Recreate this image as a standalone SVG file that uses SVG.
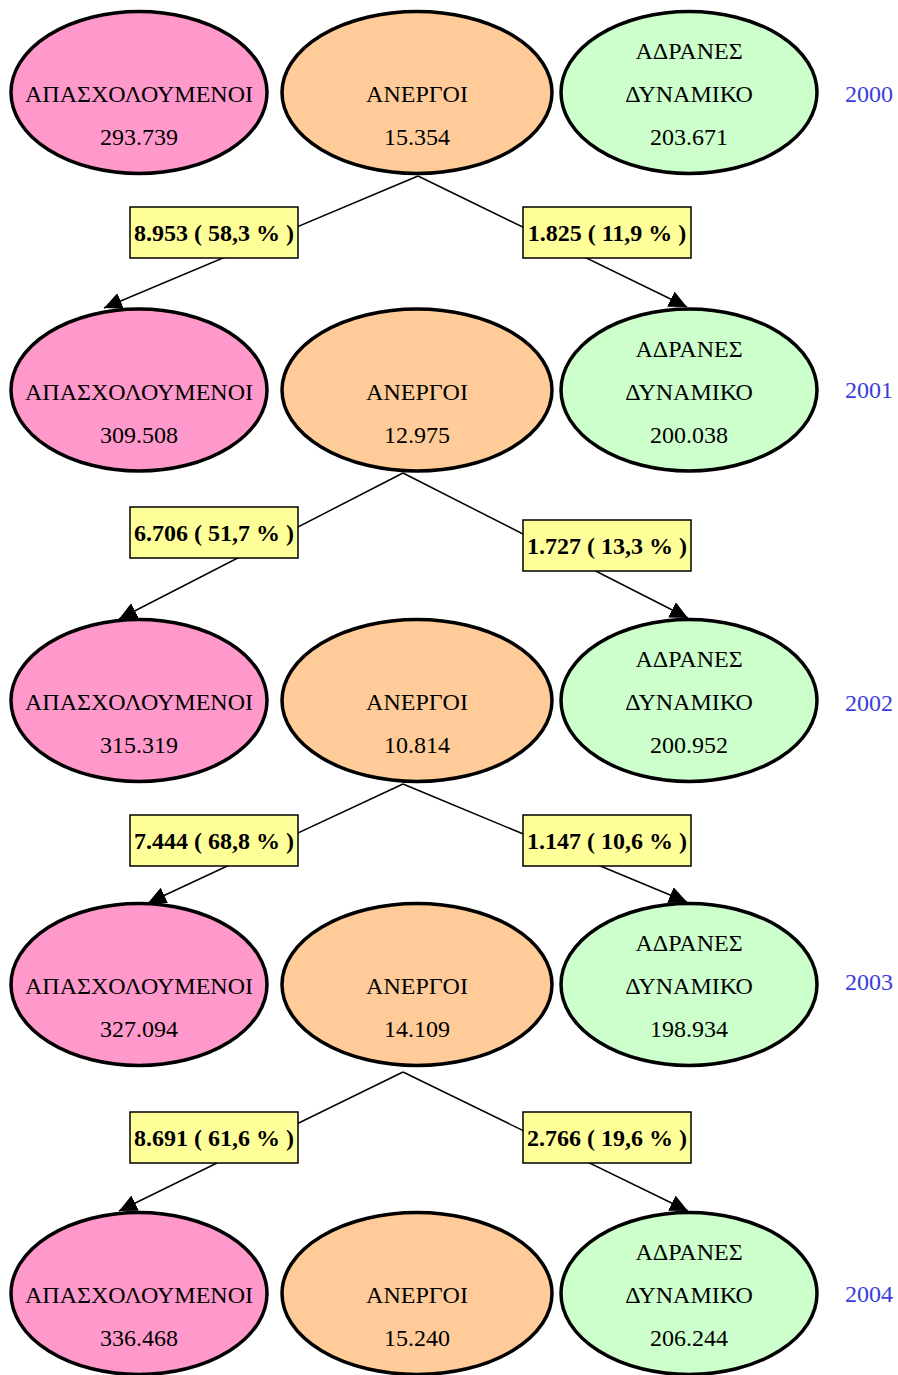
<svg xmlns="http://www.w3.org/2000/svg" width="898" height="1375" viewBox="0 0 898 1375">
<defs>
<style>
.t{font-family:"Liberation Serif","Times New Roman",serif;font-size:24px;fill:#000;text-anchor:middle}
.b{font-family:"Liberation Serif","Times New Roman",serif;font-size:24px;font-weight:bold;fill:#000;text-anchor:middle}
.y{font-family:"Liberation Serif","Times New Roman",serif;font-size:24px;fill:#3c3cdc;text-anchor:start}
.e{stroke:#000;stroke-width:3.5}
.emp{fill:#ff99cc}
.une{fill:#ffcc99}
.ina{fill:#ccffcc}
.ln{stroke:#000;stroke-width:1.5;fill:none;marker-end:url(#ah)}
.lb{fill:#ffff99;stroke:#000;stroke-width:1.5}
</style>
<marker id="ah" markerUnits="userSpaceOnUse" viewBox="0 0 18 17" markerWidth="18" markerHeight="17" refX="18" refY="8.5" orient="auto">
<path d="M0,0 L18,8.5 L0,17 z" fill="#000"/>
</marker>
</defs>
<g id="connectors">
<line class="ln" x1="418" y1="176" x2="104" y2="308"/>
<line class="ln" x1="418" y1="176" x2="687" y2="307"/>
<line class="ln" x1="403" y1="473" x2="119" y2="619"/>
<line class="ln" x1="403" y1="473" x2="688" y2="618"/>
<line class="ln" x1="403" y1="784" x2="148" y2="903"/>
<line class="ln" x1="403" y1="784" x2="687" y2="902"/>
<line class="ln" x1="403" y1="1072" x2="119" y2="1211"/>
<line class="ln" x1="403" y1="1072" x2="688" y2="1211"/>
<rect class="lb" x="130" y="207" width="168" height="51"/><text class="b" x="214" y="241">8.953 ( 58,3 % )</text>
<rect class="lb" x="523" y="207" width="168" height="51"/><text class="b" x="607" y="241">1.825 ( 11,9 % )</text>
<rect class="lb" x="130" y="507" width="168" height="51"/><text class="b" x="214" y="541">6.706 ( 51,7 % )</text>
<rect class="lb" x="523" y="520" width="168" height="51"/><text class="b" x="607" y="554">1.727 ( 13,3 % )</text>
<rect class="lb" x="130" y="815" width="168" height="51"/><text class="b" x="214" y="849">7.444 ( 68,8 % )</text>
<rect class="lb" x="523" y="815" width="168" height="51"/><text class="b" x="607" y="849">1.147 ( 10,6 % )</text>
<rect class="lb" x="130" y="1112" width="168" height="51"/><text class="b" x="214" y="1146">8.691 ( 61,6 % )</text>
<rect class="lb" x="523" y="1112" width="168" height="51"/><text class="b" x="607" y="1146">2.766 ( 19,6 % )</text>
</g>
<g id="emp2000"><ellipse class="e emp" cx="139" cy="92.5" rx="128" ry="81"/><text class="t" x="139" y="102">ΑΠΑΣΧΟΛΟΥΜΕΝΟΙ</text><text class="t" x="139" y="145">293.739</text></g>
<g id="une2000"><ellipse class="e une" cx="417" cy="92.5" rx="135" ry="81"/><text class="t" x="417" y="102">ΑΝΕΡΓΟΙ</text><text class="t" x="417" y="145">15.354</text></g>
<g id="ina2000"><ellipse class="e ina" cx="689" cy="92.5" rx="128" ry="81"/><text class="t" x="689" y="59">ΑΔΡΑΝΕΣ</text><text class="t" x="689" y="102">ΔΥΝΑΜΙΚΟ</text><text class="t" x="689" y="145">203.671</text></g>
<g id="y2000"><text class="y" x="845" y="102">2000</text></g>

<g id="emp2001"><ellipse class="e emp" cx="139" cy="390" rx="128" ry="81"/><text class="t" x="139" y="399.5">ΑΠΑΣΧΟΛΟΥΜΕΝΟΙ</text><text class="t" x="139" y="442.5">309.508</text></g>
<g id="une2001"><ellipse class="e une" cx="417" cy="390" rx="135" ry="81"/><text class="t" x="417" y="399.5">ΑΝΕΡΓΟΙ</text><text class="t" x="417" y="442.5">12.975</text></g>
<g id="ina2001"><ellipse class="e ina" cx="689" cy="390" rx="128" ry="81"/><text class="t" x="689" y="356.5">ΑΔΡΑΝΕΣ</text><text class="t" x="689" y="399.5">ΔΥΝΑΜΙΚΟ</text><text class="t" x="689" y="442.5">200.038</text></g>
<g id="y2001"><text class="y" x="845" y="398">2001</text></g>

<g id="emp2002"><ellipse class="e emp" cx="139" cy="700.5" rx="128" ry="81"/><text class="t" x="139" y="710">ΑΠΑΣΧΟΛΟΥΜΕΝΟΙ</text><text class="t" x="139" y="753">315.319</text></g>
<g id="une2002"><ellipse class="e une" cx="417" cy="700.5" rx="135" ry="81"/><text class="t" x="417" y="710">ΑΝΕΡΓΟΙ</text><text class="t" x="417" y="753">10.814</text></g>
<g id="ina2002"><ellipse class="e ina" cx="689" cy="700.5" rx="128" ry="81"/><text class="t" x="689" y="667">ΑΔΡΑΝΕΣ</text><text class="t" x="689" y="710">ΔΥΝΑΜΙΚΟ</text><text class="t" x="689" y="753">200.952</text></g>
<g id="y2002"><text class="y" x="845" y="711">2002</text></g>

<g id="emp2003"><ellipse class="e emp" cx="139" cy="984.5" rx="128" ry="81"/><text class="t" x="139" y="994">ΑΠΑΣΧΟΛΟΥΜΕΝΟΙ</text><text class="t" x="139" y="1037">327.094</text></g>
<g id="une2003"><ellipse class="e une" cx="417" cy="984.5" rx="135" ry="81"/><text class="t" x="417" y="994">ΑΝΕΡΓΟΙ</text><text class="t" x="417" y="1037">14.109</text></g>
<g id="ina2003"><ellipse class="e ina" cx="689" cy="984.5" rx="128" ry="81"/><text class="t" x="689" y="951">ΑΔΡΑΝΕΣ</text><text class="t" x="689" y="994">ΔΥΝΑΜΙΚΟ</text><text class="t" x="689" y="1037">198.934</text></g>
<g id="y2003"><text class="y" x="845" y="990">2003</text></g>

<g id="emp2004"><ellipse class="e emp" cx="139" cy="1293.5" rx="128" ry="81"/><text class="t" x="139" y="1303">ΑΠΑΣΧΟΛΟΥΜΕΝΟΙ</text><text class="t" x="139" y="1346">336.468</text></g>
<g id="une2004"><ellipse class="e une" cx="417" cy="1293.5" rx="135" ry="81"/><text class="t" x="417" y="1303">ΑΝΕΡΓΟΙ</text><text class="t" x="417" y="1346">15.240</text></g>
<g id="ina2004"><ellipse class="e ina" cx="689" cy="1293.5" rx="128" ry="81"/><text class="t" x="689" y="1260">ΑΔΡΑΝΕΣ</text><text class="t" x="689" y="1303">ΔΥΝΑΜΙΚΟ</text><text class="t" x="689" y="1346">206.244</text></g>
<g id="y2004"><text class="y" x="845" y="1302">2004</text></g>
</svg>
